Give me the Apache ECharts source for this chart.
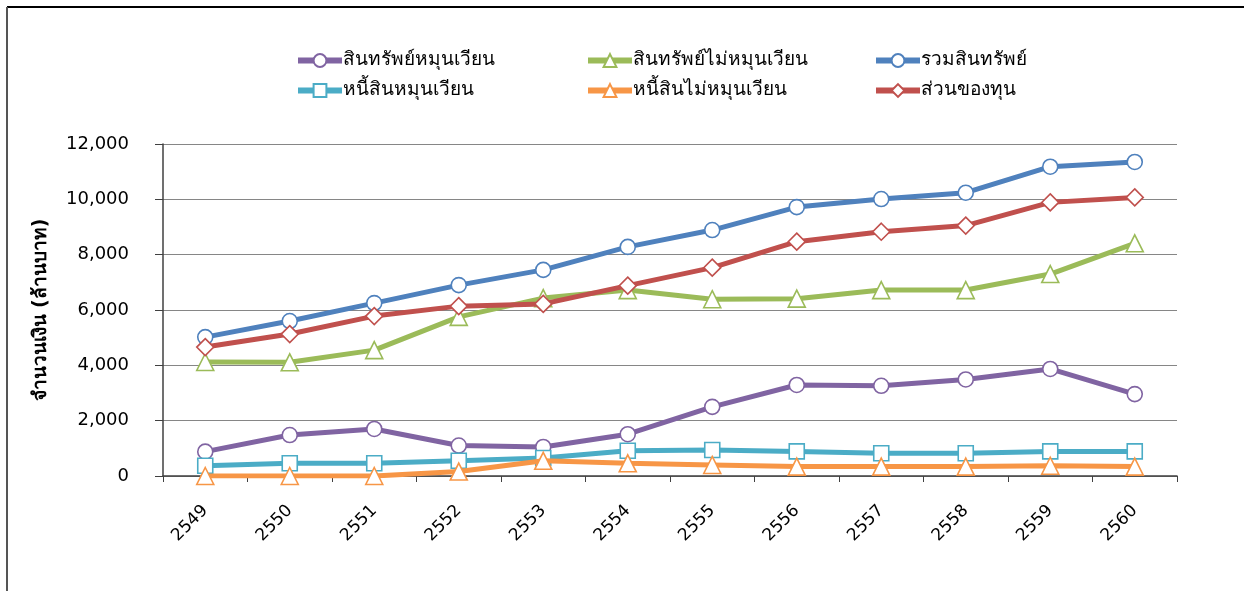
<!DOCTYPE html>
<html><head><meta charset="utf-8">
<script src="https://cdn.jsdelivr.net/npm/echarts@6/dist/echarts.min.js"></script>
<style>html,body{margin:0;padding:0;background:#fff}#c{width:1244px;height:591px}</style>
</head><body><div id="c"></div>
<script>
const years = ['2549','2550','2551','2552','2553','2554','2555','2556','2557','2558','2559','2560'];
const currentAssets = [880,1480,1700,1100,1050,1510,2500,3290,3260,3490,3870,2960];
const nonCurrentAssets = [4120,4110,4550,5750,6430,6720,6390,6410,6720,6720,7300,8410];
const totalAssets = [5020,5600,6250,6900,7450,8280,8890,9720,10010,10240,11180,11350];
const currentLiab = [370,460,460,550,650,910,940,890,820,820,890,890];
const nonCurrentLiab = [0,0,0,160,550,460,400,340,340,340,370,340];
const equity = [4660,5130,5780,6140,6220,6880,7530,8470,8830,9050,9890,10070];
const yTicks = [0,2000,4000,6000,8000,10000,12000];

const names = ['สินทรัพย์หมุนเวียน','สินทรัพย์ไม่หมุนเวียน','รวมสินทรัพย์','หนี้สินหมุนเวียน','หนี้สินไม่หมุนเวียน','ส่วนของทุน'];
const colors = ['#8064A2','#9BBB59','#4F81BD','#4BACC6','#F79646','#C0504D'];
const symbols = ['circle','triangle','circle','rect','triangle','diamond'];
const datas = [currentAssets,nonCurrentAssets,totalAssets,currentLiab,nonCurrentLiab,equity];
const font = "'DejaVu Sans', 'Noto Sans', sans-serif";

const series = names.map((n,i)=>({
  name:n, type:'line', data:datas[i], symbol:symbols[i],
  symbolSize: symbols[i]==='triangle'?17:(symbols[i]==='diamond'?17:15),
  showAllSymbol:true,
  lineStyle:{width:5,color:colors[i]},
  itemStyle:{color:'#fff',borderColor:colors[i],borderWidth:1.6},
  emphasis:{disabled:true}, animation:false, z:2+i
}));

const legendBase = {orient:'vertical', top:46, itemGap:11, itemWidth:44, itemHeight:16,
  lineStyle:{width:6},
  textStyle:{fontSize:19, fontFamily:font, color:'#000', padding:[0,0,0,-4]}, selectedMode:false};

const chart = echarts.init(document.getElementById('c'));
chart.setOption({
  animation:false,
  backgroundColor:'#fff',
  legend:[
    Object.assign({left:290, data:[names[0],names[3]]},legendBase),
    Object.assign({left:580, data:[names[1],names[4]]},legendBase),
    Object.assign({left:868, data:[names[2],names[5]]},legendBase)
  ],
  grid:{left:163, right:67, top:144, bottom:115, containLabel:false},
  xAxis:{type:'category', data:years, boundaryGap:true,
    axisLine:{lineStyle:{color:'#404040',width:1.5}},
    axisTick:{show:true, length:6, alignWithLabel:false, lineStyle:{color:'#404040'}},
    axisLabel:{rotate:45, fontSize:17, fontFamily:font, color:'#000', margin:32, interval:0}},
  yAxis:{type:'value', min:0, max:12000, interval:2000,
    name:'จำนวนเงิน (ล้านบาท)', nameLocation:'middle', nameGap:112, nameRotate:90,
    nameTextStyle:{fontSize:19, fontWeight:'bold', fontFamily:font, color:'#000'},
    axisLine:{show:true, lineStyle:{color:'#404040',width:1.5}},
    axisTick:{show:true, inside:false, length:8, lineStyle:{color:'#404040'}},
    splitLine:{lineStyle:{color:'#868686',width:1}},
    axisLabel:{fontSize:18, fontFamily:font, color:'#000', margin:34,
      formatter:v=>yTicks.includes(v)?v.toLocaleString('en-US'):''}},
  graphic:[
    {type:'line', shape:{x1:7,y1:7,x2:1244,y2:7}, style:{stroke:'#000',lineWidth:2}},
    {type:'line', shape:{x1:7,y1:7,x2:7,y2:591}, style:{stroke:'#555',lineWidth:2}}
  ],
  series
});
</script></body></html>
